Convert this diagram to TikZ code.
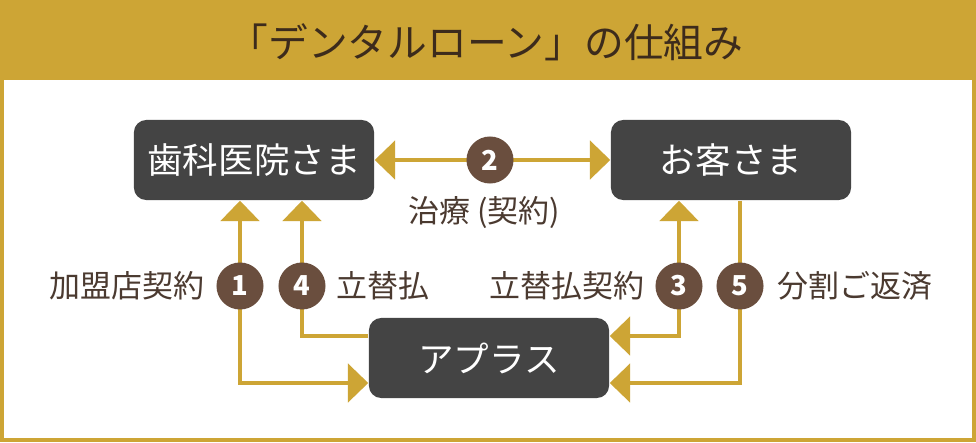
\documentclass[tikz,border=0pt]{standalone}
\usepackage{fontspec}
\setmainfont{Noto Sans CJK JP}
\usetikzlibrary{arrows.meta,backgrounds,calc}

\definecolor{gold}{HTML}{CDA535}
\definecolor{boxgray}{HTML}{444444}
\definecolor{numbrown}{HTML}{6A4E3E}
\definecolor{labelbrown}{HTML}{4B3A30}
\definecolor{titlebrown}{HTML}{3C2B1C}

\begin{document}
\begin{tikzpicture}[x=0.01cm, y=-0.01cm,
  party/.style={fill=boxgray, text=white, rounded corners=3.5pt,
                minimum width=2.4cm, minimum height=0.8cm, inner sep=0pt,
                font=\fontsize{10.1}{12}\selectfont},
  num/.style={circle, fill=numbrown, text=white, minimum size=0.47cm,
              inner sep=0pt, font=\fontsize{7.8}{9}\bfseries\selectfont},
  lbl/.style={text=labelbrown, inner sep=0pt, font=\fontsize{8.8}{10}\selectfont},
  arr/.style={gold, line width=0.9pt, -{Triangle[length=5.8pt, width=11pt]}},
  biarr/.style={gold, line width=0.9pt,
                {Triangle[length=5.8pt, width=11pt]}-{Triangle[length=5.8pt, width=11pt]}},
  plain/.style={gold, line width=0.9pt}
]
  \useasboundingbox (0,0) rectangle (976,442);

  % Panel
  \begin{scope}[on background layer]
    \fill[gold] (0,0) rectangle (976,442);
    \fill[white] (4,80) rectangle (972,438);
  \end{scope}
  \node[text=titlebrown, font=\fontsize{11.3}{14}\selectfont] (title) at (486,42)
    {「デンタルローン」の仕組み};

  % Parties
  \node[party] (clinic) at (254,160) {歯科医院さま};
  \node[party] (customer) at (731,160) {お客さま};
  \node[party] (apras) at (489,358) {アプラス};

  % Steps
  \node[num] (n1) at (240,286) {1};
  \node[num] (n2) at (490,160) {2};
  \node[num] (n3) at (679,286) {3};
  \node[num] (n4) at (302,286) {4};
  \node[num] (n5) at (740,286) {5};
  \coordinate (high) at (0,336);
  \coordinate (low) at (0,383);

  \begin{scope}[on background layer]
    \draw[biarr] (clinic.east) -- (customer.west);
    \draw[biarr] (clinic.south -| n1) -- (n1.center) |- (apras.west |- low);
    \draw[arr] (apras.west |- high) -| (n4.center) -- (clinic.south -| n4);
    \draw[biarr] (customer.south -| n3) -- (n3.center) |- (apras.east |- high);
    \draw[arr] (customer.south -| n5) -- (n5.center) |- (apras.east |- low);
  \end{scope}

  % Labels
  \node[lbl] (l2) at (484,213) {治療 (契約)};
  \node[lbl, anchor=east] (l1) at (205,286) {加盟店契約};
  \node[lbl, anchor=west] (l4) at (336,286) {立替払};
  \node[lbl, anchor=east] (l3) at (645,286) {立替払契約};
  \node[lbl, anchor=west] (l5) at (777,286) {分割ご返済};
\end{tikzpicture}
\end{document}
